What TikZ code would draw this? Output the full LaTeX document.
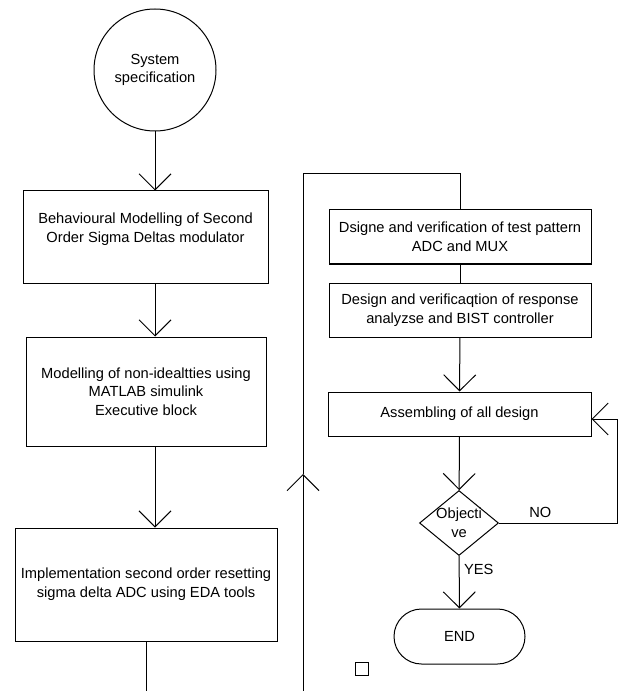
\documentclass[tikz,border=0pt]{standalone}
\usepackage{fontspec}
\setmainfont{Liberation Sans}
\usepackage{tikz}
\usetikzlibrary{shapes, arrows.meta, positioning}
\newdimen\px
\px=0.75pt
\tikzstyle{snode} = [circle, draw, minimum size = 122\px, inner sep = 0pt, align = center]
\tikzstyle{pnode} = [rectangle, draw, inner sep = 0pt, align = center]
\tikzstyle{dnode} = [diamond, draw, inner sep = 0pt, minimum width = 79\px, minimum height = 65\px, align = center]
\tikzstyle{enode} = [rounded rectangle, draw, inner sep = 0pt, minimum width = 131\px, minimum height = 55\px]
\tikzstyle{line} = [draw]
\tikzstyle{aline} = [draw, -{Straight Barb[length = 12pt, width = 24pt]}]

\begin{document}
\begin{tikzpicture}[x = 0.75pt, y = -0.75pt, line width = 0.75pt, font = \fontsize{11pt}{14pt}\selectfont]
			\useasboundingbox (0, 0) rectangle (623, 691);
			
			\node [snode] (spec) at (155, 70) {System\\specification};
			\node [pnode, minimum width = 245\px, minimum height = 92\px] (behav) at (145.5, 237) {Behavioural Modelling of Second\\Order Sigma Deltas modulator\\~};
			\node [pnode, minimum width = 240\px, minimum height = 109\px] (nonid) at (146, 391.5) {Modelling of non-idealtties using\\MATLAB simulink\\Executive block};
			\node [pnode, minimum width = 262\px, minimum height = 113\px] (impl) at (146, 584.5) {Implementation second order resetting\\sigma delta ADC using EDA tools};
			
			\node [pnode, minimum width = 262\px, minimum height = 54\px] (tpg) at (460, 237) {Dsigne and verification of test pattern\\ADC and MUX};
			\node [pnode, minimum width = 262\px, minimum height = 54\px] (resp) at (460, 310) {Design and verificaqtion of response\\analyzse and BIST controller};
			\node [pnode, minimum width = 263\px, minimum height = 44\px] (asm) at (459.5, 414) {Assembling of all design};
			\node [dnode] (obj) at (459, 523) {\makebox[0pt]{Objecti}\\\makebox[0pt]{ve}};
			\node [enode] (end) at (459.5, 636.5) {END};
			\node [draw, inner sep = 0pt, minimum size = 13\px] (sq) at (361.5, 668.5) {};
			
			\coordinate (lowL) at (146, 691);
			\coordinate (lowR) at (303, 691);
			\coordinate (upR) at (303, 474);
			\coordinate (topR) at (303, 174);
			\coordinate (noR) at (617, 419);
			
			\path [aline] (spec) -- (spec |- behav.north);
			\path [aline] (behav.south -| spec) -- (nonid.north -| spec);
			\path [aline] (nonid.south -| spec) -- (impl.north -| spec);
			\path [line] (impl) -- (lowL);
			
			\path [aline] (lowR) -- (upR);
			\path [line] (upR) -- (topR) -| (tpg.north);
			\path [line] (tpg) -- (resp);
			\path [aline] (resp) -- (asm);
			\path [aline] (asm) -- (obj);
			\path [aline] (obj.east) -- node [above, pos = 0.35] {NO} (obj.east -| noR) -- (noR) -- (noR -| asm.east);
			\path [aline] (obj) -- node [right, pos = 0.25] {YES} (end);
		\end{tikzpicture}
\end{document}
